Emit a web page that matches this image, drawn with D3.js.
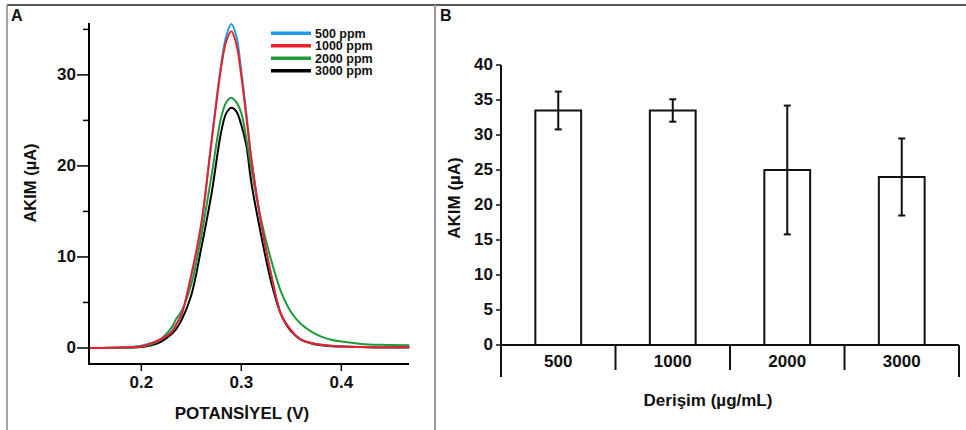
<!DOCTYPE html>
<html><head><meta charset="utf-8">
<script src="https://cdn.jsdelivr.net/npm/d3@7"></script>
<style>
body{margin:0;background:#fff;}
svg{display:block;}
text{font-family:"Liberation Sans",Arial,sans-serif;font-weight:bold;fill:#111;}
</style></head>
<body><svg id="c" width="966" height="430"></svg>
<script>
// ---------- Panel A data ----------
const potential = [0.148,0.17,0.19,0.20,0.21,0.22,0.23,0.235,0.24,0.25,0.26,0.27,0.28,0.285,0.29,0.295,0.30,0.305,0.31,0.32,0.33,0.34,0.35,0.36,0.37,0.38,0.39,0.40,0.42,0.44,0.468];
const ppm500  = [0.0,0.03,0.12,0.25,0.55,1.0,1.8,2.6,3.6,8.0,13.6,22.6,31.3,34.3,35.6,34.3,30.4,25.8,20.9,13.6,8.0,3.7,1.9,0.9,0.55,0.35,0.25,0.18,0.12,0.1,0.1];
const ppm1000 = [0.0,0.02,0.1,0.2,0.5,1.0,1.7,2.6,3.6,8.0,13.6,22.4,30.9,33.7,34.8,33.4,29.9,25.4,20.8,13.6,8.0,3.6,1.9,0.9,0.55,0.35,0.25,0.15,0.1,0.08,0.1];
const ppm2000 = [0.0,0.02,0.08,0.15,0.4,1.0,2.2,3.2,4.0,7.0,12.3,18.8,25.4,27.0,27.5,27.0,25.8,23.0,19.7,14.0,9.6,6.1,3.9,2.6,1.8,1.25,0.9,0.7,0.45,0.35,0.3];
const ppm3000 = [0.0,0.0,0.05,0.1,0.3,0.7,1.5,2.1,3.0,5.8,11.0,16.8,23.8,25.8,26.4,26.0,24.5,22.3,18.2,12.3,7.2,3.6,1.8,0.9,0.5,0.3,0.2,0.15,0.1,0.05,0.05];
const seriesNames = ["500 ppm","1000 ppm","2000 ppm","3000 ppm"];
const seriesColors = ["#1d9be8","#ee2027","#1f9a3a","#000000"];
const xTicksA = [0.2,0.3,0.4];
const yTicksA = [0,10,20,30];
const yMinorA = [5,15,25,35];

// ---------- Panel B data ----------
const categories = ["500","1000","2000","3000"];
const meanCurrent = [33.5,33.5,25.0,24.0];
const errCurrent = [2.7,1.6,9.2,5.5];
const yTicksB = [0,5,10,15,20,25,30,35,40];

const svg = d3.select("#c");

// frame
svg.append("line").attr("x1",7).attr("x2",966).attr("y1",5).attr("y2",5).attr("stroke","#555").attr("stroke-width",2);
svg.append("line").attr("x1",7).attr("x2",7).attr("y1",5).attr("y2",430).attr("stroke","#888").attr("stroke-width",1.5);
svg.append("line").attr("x1",435).attr("x2",435).attr("y1",5).attr("y2",430).attr("stroke","#999").attr("stroke-width",2);

svg.append("text").attr("x",11).attr("y",21).attr("font-size",16).text("A");
svg.append("text").attr("x",440).attr("y",21).attr("font-size",16).text("B");

// ---------- Panel A ----------
const xA = d3.scaleLinear().domain([0.1477,0.4677]).range([89,409]);
const yA = d3.scaleLinear().domain([-1.76,35.7]).range([364,23]);
const gA = svg.append("g");

const allSeries = [ppm500,ppm1000,ppm2000,ppm3000];
const drawOrder = [3,2,0,1];
const line = d3.line().x((d,i)=>xA(potential[i])).y(d=>yA(d)).curve(d3.curveCatmullRom);
drawOrder.forEach(k=>{
  gA.append("path").datum(allSeries[k]).attr("d",line).attr("fill","none")
    .attr("stroke",seriesColors[k]).attr("stroke-width",2);
});

// axes
gA.append("line").attr("x1",xA.range()[0]).attr("x2",xA.range()[0]).attr("y1",yA.range()[0]+1).attr("y2",yA.range()[1]).attr("stroke","#000").attr("stroke-width",2);
gA.append("line").attr("x1",xA.range()[0]).attr("x2",xA.range()[1]).attr("y1",yA.range()[0]).attr("y2",yA.range()[0]).attr("stroke","#000").attr("stroke-width",2);
yTicksA.forEach(t=>{
  gA.append("line").attr("x1",xA.range()[0]-12).attr("x2",xA.range()[0]).attr("y1",yA(t)).attr("y2",yA(t)).attr("stroke","#000").attr("stroke-width",1.5);
  gA.append("text").attr("x",xA.range()[0]-13).attr("y",yA(t)).attr("dy","0.3em").attr("text-anchor","end").attr("font-size",17).text(t);
});
yMinorA.forEach(t=>{
  gA.append("line").attr("x1",xA.range()[0]-6).attr("x2",xA.range()[0]).attr("y1",yA(t)).attr("y2",yA(t)).attr("stroke","#000").attr("stroke-width",1.5);
});
xTicksA.forEach(t=>{
  gA.append("line").attr("x1",xA(t)).attr("x2",xA(t)).attr("y1",yA.range()[0]).attr("y2",yA.range()[0]+7).attr("stroke","#000").attr("stroke-width",1.5);
  gA.append("text").attr("x",xA(t)).attr("y",388).attr("text-anchor","middle").attr("font-size",17).text(d3.format(".1f")(t));
});
gA.append("text").attr("x",242).attr("y",419).attr("text-anchor","middle").attr("font-size",17).text("POTANSİYEL (V)");
gA.append("text").attr("transform","translate(36,183) rotate(-90)").attr("text-anchor","middle").attr("font-size",16.5).text("AKIM (µA)");

// legend
seriesNames.forEach((n,i)=>{
  const y = 33.3 + i*12.5;
  gA.append("line").attr("x1",271).attr("x2",311).attr("y1",y).attr("y2",y).attr("stroke",seriesColors[i]).attr("stroke-width",3.5);
  gA.append("text").attr("x",315).attr("y",y).attr("dy","0.36em").attr("font-size",12.5).text(n);
});

// ---------- Panel B ----------
const xB = d3.scaleBand().domain(categories).range([501,959]).paddingInner(0.6).paddingOuter(0.3);
const yB = d3.scaleLinear().domain([0,40]).range([345,65]);
const gB = svg.append("g");

categories.forEach((c,i)=>{
  gB.append("rect").attr("x",xB(c)).attr("y",yB(meanCurrent[i])).attr("width",xB.bandwidth()).attr("height",yB(0)-yB(meanCurrent[i]))
    .attr("fill","#fff").attr("stroke","#111").attr("stroke-width",2);
});
categories.forEach((c,i)=>{
  const cx = xB(c)+xB.bandwidth()/2;
  const hi = yB(meanCurrent[i]+errCurrent[i]), lo = yB(meanCurrent[i]-errCurrent[i]);
  gB.append("line").attr("x1",cx).attr("x2",cx).attr("y1",hi).attr("y2",lo).attr("stroke","#111").attr("stroke-width",2);
  [hi,lo].forEach(v=>gB.append("line").attr("x1",cx-3.5).attr("x2",cx+3.5).attr("y1",v).attr("y2",v).attr("stroke","#111").attr("stroke-width",2));
});

// y axis
gB.append("line").attr("x1",xB.range()[0]).attr("x2",xB.range()[0]).attr("y1",yB(0)).attr("y2",yB(40)).attr("stroke","#111").attr("stroke-width",2);
yTicksB.forEach(t=>{
  gB.append("line").attr("x1",xB.range()[0]-5).attr("x2",xB.range()[0]).attr("y1",yB(t)).attr("y2",yB(t)).attr("stroke","#111").attr("stroke-width",1.5);
  gB.append("text").attr("x",xB.range()[0]-8).attr("y",yB(t)).attr("dy","0.3em").attr("text-anchor","end").attr("font-size",17).text(t);
});
// x axis with category separators
gB.append("line").attr("x1",xB.range()[0]).attr("x2",xB.range()[1]).attr("y1",yB(0)).attr("y2",yB(0)).attr("stroke","#111").attr("stroke-width",2);
const step = xB.step();
d3.range(categories.length+1).forEach(i=>{
  const bx = xB.range()[0] + i*step;
  const end = (i===0 || i===categories.length);
  gB.append("line").attr("x1",bx).attr("x2",bx).attr("y1",yB(0)).attr("y2",yB(0)+(end?32:25)).attr("stroke","#111").attr("stroke-width",2);
});
categories.forEach(c=>{
  gB.append("text").attr("x",xB(c)+xB.bandwidth()/2).attr("y",367).attr("text-anchor","middle").attr("font-size",17).text(c);
});
gB.append("text").attr("x",708).attr("y",406).attr("text-anchor","middle").attr("font-size",17).text("Derişim (µg/mL)");
gB.append("text").attr("transform","translate(460,198) rotate(-90)").attr("text-anchor","middle").attr("font-size",17).text("AKIM (µA)");
</script></body></html>
